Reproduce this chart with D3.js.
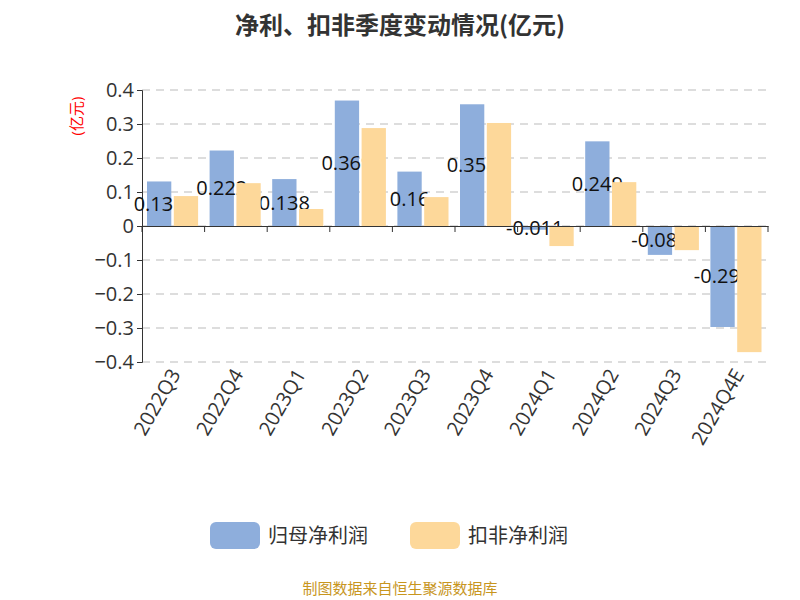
<!DOCTYPE html><html><head><meta charset="utf-8"><script src="https://cdn.jsdelivr.net/npm/d3@7"></script>
<style>body{margin:0;background:#fff}text{font-family:"Open Sans","Noto Sans CJK SC",sans-serif}</style></head><body>
<svg id="c" width="800" height="600"></svg>
<script>
const categories=["2022Q3","2022Q4","2023Q1","2023Q2","2023Q3","2023Q4","2024Q1","2024Q2","2024Q3","2024Q4E"];
const netProfit=[0.131,0.222,0.138,0.369,0.16,0.358,-0.011,0.249,-0.085,-0.297];
const deducted=[0.088,0.126,0.05,0.288,0.085,0.303,-0.059,0.129,-0.071,-0.371];
const labels=["0.131","0.222","0.138","0.369","0.16","0.358","-0.011","0.249","-0.085","-0.297"];
const yTicks=[0.4,0.3,0.2,0.1,0,-0.1,-0.2,-0.3,-0.4];
const svg=d3.select("#c");
const L=142,R=768,T=90,B=362;
const x=d3.scaleBand().domain(categories).range([L,R]);
const y=d3.scaleLinear().domain([-0.4,0.4]).range([B,T]);
svg.append("text").attr("x",400).attr("y",34).attr("text-anchor","middle").attr("font-size",24).attr("font-weight","bold").attr("fill","#333").style("font-family","Noto Sans CJK SC").text("净利、扣非季度变动情况(亿元)");
svg.append("g").selectAll("line").data(yTicks).join("line").attr("x1",L).attr("x2",R).attr("y1",d=>y(d)).attr("y2",d=>y(d)).attr("stroke","#bbb").attr("stroke-dasharray","8,6");
const ya=svg.append("g").attr("transform",`translate(${L},0)`).call(d3.axisLeft(y).tickValues(yTicks).tickFormat(d=>d===0?"0":d3.format("")(d)).tickSize(5));
ya.selectAll("text").attr("font-size",20).attr("fill","#333");
ya.selectAll("path,line").attr("stroke","#333");
svg.append("text").attr("transform","translate(82,116) rotate(-90)").attr("font-size",15).attr("fill","red").attr("text-anchor","middle").text("(亿元)");
const bw=x.bandwidth();
svg.append("g").selectAll("rect").data(netProfit).join("rect").attr("x",(d,i)=>x(categories[i])+5).attr("width",bw/2-7).attr("y",d=>y(Math.max(0,d))).attr("height",d=>Math.abs(y(d)-y(0))).attr("fill","#8eaedc");
svg.append("g").selectAll("text").data(netProfit).join("text").attr("x",(d,i)=>x(categories[i])+5+(bw/2-7)/2).attr("y",d=>(y(d)+y(0))/2+7).attr("text-anchor","middle").attr("font-size",20).attr("fill","#111").text((d,i)=>labels[i]);
svg.append("g").selectAll("rect").data(deducted).join("rect").attr("x",(d,i)=>x(categories[i])+bw/2+0.5).attr("width",bw/2-7).attr("y",d=>y(Math.max(0,d))).attr("height",d=>Math.abs(y(d)-y(0))).attr("fill","#fdd89a");
const xa=svg.append("g").attr("transform",`translate(0,${y(0)})`).call(d3.axisBottom(x).tickSize(0).tickFormat(""));
xa.selectAll("path").attr("stroke","#333");
svg.append("g").selectAll("line").data(categories.concat([null])).join("line").attr("x1",(d,i)=>L+i*bw).attr("x2",(d,i)=>L+i*bw).attr("y1",y(0)).attr("y2",y(0)+6).attr("stroke","#333");
svg.append("g").selectAll("text").data(categories).join("text").attr("transform",d=>`translate(${x(d)+bw/2+8},${B+12}) rotate(-60)`).attr("text-anchor","end").attr("font-size",20).attr("fill","#333").text(d=>d);
const leg=[["归母净利润","#8eaedc",210],["扣非净利润","#fdd89a",410]];
leg.forEach(([t,c,lx])=>{svg.append("rect").attr("x",lx).attr("y",522).attr("width",50).attr("height",27).attr("rx",6).attr("fill",c);
svg.append("text").attr("x",lx+58).attr("y",543).attr("font-size",20).attr("fill","#333").style("font-family","Noto Sans CJK SC").text(t);});
svg.append("text").attr("x",400).attr("y",594).attr("text-anchor","middle").attr("font-size",15).attr("fill","#c8961e").style("font-family","Noto Sans CJK SC").text("制图数据来自恒生聚源数据库");
</script></body></html>
